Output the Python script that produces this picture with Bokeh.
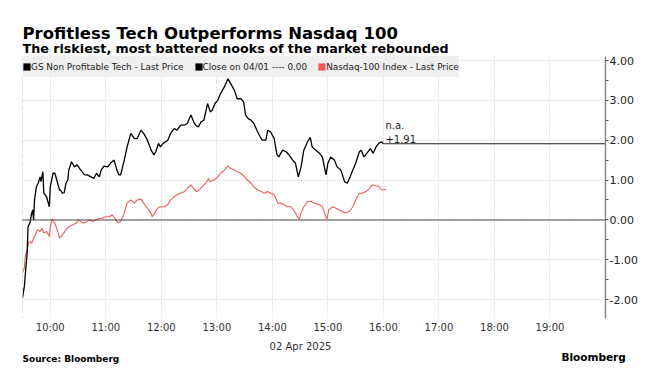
import math
import pandas as pd
from bokeh.plotting import figure
from bokeh.layouts import column, row
from bokeh.models import (Label, Span, Legend, LegendItem, Range1d, DatetimeTickFormatter,
                          FixedTicker, PrintfTickFormatter, ColumnDataSource)
from bokeh.embed import file_html
from bokeh.resources import INLINE

DAY = "2025-04-02"
title_text = "Profitless Tech Outperforms Nasdaq 100"
subtitle_text = "The riskiest, most battered nooks of the market rebounded"
date_text = "02 Apr 2025"
source_text = "Source: Bloomberg"
brand_text = "Bloomberg"

gs_label = "GS Non Profitable Tech - Last Price"
close_label = "Close on 04/01 ---- 0.00"
ndx_label = "Nasdaq-100 Index - Last Price"

gs_times = ["09:30", "09:32", "09:35", "09:36", "09:38", "09:40", "09:41", "09:42", "09:43", "09:45",
            "09:47", "09:49", "09:50", "09:52", "09:53", "09:56", "09:59", "10:00", "10:03", "10:05",
            "10:08", "10:10", "10:11", "10:13", "10:15", "10:17", "10:19", "10:20", "10:23", "10:26",
            "10:29", "10:33", "10:37", "10:40", "10:44", "10:47", "10:50", "10:53", "10:55", "10:58",
            "11:02", "11:05", "11:09", "11:12", "11:14", "11:16", "11:20", "11:23", "11:27", "11:31",
            "11:34", "11:38", "11:41", "11:45", "11:49", "11:52", "11:54", "11:57", "11:59", "12:02",
            "12:07", "12:10", "12:14", "12:17", "12:21", "12:25", "12:28", "12:32", "12:35", "12:37",
            "12:40", "12:43", "12:46", "12:50", "12:53", "12:55", "12:58", "13:01", "13:04", "13:08",
            "13:12", "13:15", "13:19", "13:22", "13:26", "13:29", "13:31", "13:34", "13:37", "13:40",
            "13:44", "13:47", "13:49", "13:53", "13:55", "13:58", "14:02", "14:05", "14:07", "14:11",
            "14:15", "14:18", "14:22", "14:25", "14:28", "14:31", "14:34", "14:38", "14:41", "14:43",
            "14:47", "14:51", "14:54", "14:58", "15:00", "15:03", "15:07", "15:10", "15:14", "15:18",
            "15:21", "15:24", "15:27", "15:30", "15:34", "15:36", "15:39", "15:42", "15:46", "15:49",
            "15:52", "15:55", "15:58", "16:00"]
gs_values = [-1.96, -1.67, -0.83, -0.17, -0.08, 0.17, 0.25, 0.00, 0.50, 0.83,
             0.92, 1.08, 0.96, 1.21, 0.67, 0.58, 0.33, 0.83, 1.17, 1.17,
             0.92, 0.75, 0.75, 0.67, 0.68, 0.92, 1.00, 1.25, 1.46, 1.33,
             1.38, 1.25, 1.13, 1.13, 1.08, 1.04, 1.17, 1.08, 1.25, 1.35,
             1.33, 1.42, 1.50, 1.25, 1.13, 1.13, 1.50, 1.83, 2.17, 2.04,
             2.04, 2.25, 2.17, 2.00, 1.75, 1.63, 1.71, 1.92, 1.83, 1.92,
             2.00, 2.17, 2.29, 2.25, 2.38, 2.38, 2.42, 2.63, 2.46, 2.38,
             2.33, 2.46, 2.50, 2.92, 2.71, 2.75, 2.92, 3.00, 3.17, 3.33,
             3.54, 3.42, 3.25, 3.04, 3.04, 2.96, 2.63, 2.54, 2.50, 2.42,
             2.21, 2.08, 2.00, 2.00, 2.25, 2.21, 2.04, 1.63, 1.58, 1.75,
             1.71, 1.63, 1.50, 1.42, 1.08, 1.33, 1.75, 1.96, 2.07, 1.83,
             1.75, 1.67, 1.58, 1.13, 1.42, 1.58, 1.50, 1.33, 1.25, 0.96,
             0.92, 1.08, 1.25, 1.42, 1.71, 1.75, 1.58, 1.67, 1.79, 1.67,
             1.83, 1.92, 1.96, 1.91]

ndx_times = ["09:30", "09:32", "09:33", "09:35", "09:37", "09:40", "09:42", "09:44", "09:46", "09:49",
             "09:51", "09:53", "09:56", "09:59", "10:00", "10:02", "10:05", "10:08", "10:10", "10:13",
             "10:17", "10:20", "10:24", "10:28", "10:31", "10:35", "10:38", "10:42", "10:46", "10:49",
             "10:53", "10:56", "11:00", "11:04", "11:07", "11:11", "11:13", "11:16", "11:20", "11:23",
             "11:27", "11:31", "11:34", "11:38", "11:41", "11:45", "11:49", "11:50", "11:53", "11:56",
             "11:59", "12:03", "12:07", "12:10", "12:14", "12:17", "12:21", "12:25", "12:28", "12:32",
             "12:35", "12:38", "12:41", "12:44", "12:48", "12:51", "12:53", "12:57", "13:01", "13:04",
             "13:08", "13:12", "13:15", "13:19", "13:22", "13:26", "13:30", "13:33", "13:37", "13:40",
             "13:44", "13:48", "13:51", "13:55", "13:58", "14:02", "14:06", "14:09", "14:13", "14:16",
             "14:20", "14:24", "14:27", "14:29", "14:31", "14:34", "14:38", "14:42", "14:45", "14:51",
             "14:54", "14:57", "14:59", "15:01", "15:05", "15:09", "15:12", "15:16", "15:19", "15:23",
             "15:27", "15:30", "15:34", "15:37", "15:41", "15:45", "15:48", "15:52", "15:55", "15:58",
             "16:03"]
ndx_values = [-1.33, -1.21, -0.92, -0.75, -0.54, -0.58, -0.46, -0.38, -0.25, -0.29,
              -0.21, -0.33, -0.29, -0.42, -0.17, 0.02, -0.08, -0.29, -0.46, -0.38,
              -0.25, -0.17, -0.13, -0.08, 0.00, -0.08, -0.07, 0.00, -0.04, 0.00,
              0.04, 0.04, 0.08, 0.08, 0.13, 0.00, -0.07, -0.04, 0.17, 0.42,
              0.50, 0.42, 0.50, 0.52, 0.42, 0.29, 0.17, 0.08, 0.17, 0.29,
              0.33, 0.33, 0.38, 0.50, 0.58, 0.63, 0.67, 0.71, 0.79, 0.88,
              0.79, 0.71, 0.75, 0.83, 0.92, 1.04, 0.96, 1.00, 1.08, 1.17,
              1.25, 1.35, 1.29, 1.25, 1.21, 1.17, 1.08, 1.00, 0.92, 0.83,
              0.75, 0.71, 0.67, 0.71, 0.67, 0.63, 0.42, 0.42, 0.38, 0.33,
              0.33, 0.21, 0.08, 0.02, 0.17, 0.33, 0.46, 0.46, 0.42, 0.38,
              0.33, 0.13, 0.02, 0.25, 0.33, 0.29, 0.25, 0.21, 0.17, 0.21,
              0.33, 0.50, 0.67, 0.67, 0.71, 0.79, 0.88, 0.85, 0.85, 0.75,
              0.77]

prev_close = 0.00
last_gs_text = ["n.a.", "+1.91"]
x_start, x_end = "09:30", "20:00"
y_start, y_end = -2.475, 4.1
y_ticks = [-2, -1, 0, 1, 2, 3, 4]
x_ticks = ["10:00", "11:00", "12:00", "13:00", "14:00", "15:00", "16:00", "17:00", "18:00", "19:00"]

W = 661
FONT = "DejaVu Sans"
FRAME_L, FRAME_R = 22, 605   # page x of the main plotting frame


def ts(t):
    return pd.Timestamp(f"{DAY} {t}")


def ms(t):
    return ts(t).value // 10**6


def text_panel(y_top, y_bottom, x_left, x_right):
    """A blank svg figure whose data units are page pixels (y grows downward)."""
    f = figure(width=W, height=y_bottom - y_top, x_range=Range1d(x_left, x_right),
               y_range=Range1d(y_bottom, y_top), output_backend="svg", toolbar_location=None,
               x_axis_location=None, y_axis_location=None,
               min_border_left=x_left, min_border_right=W - x_right,
               min_border_top=0, min_border_bottom=0)
    f.grid.visible = False
    f.outline_line_color = None
    f.background_fill_color = "white"
    f.border_fill_color = "white"
    return f


def add_text(f, txt, x, y, size, bold=False, align="left", color="#000000"):
    f.add_layout(Label(x=x, y=y, text=txt, text_font=FONT, text_font_size=size,
                       text_font_style="bold" if bold else "normal", text_align=align,
                       text_baseline="alphabetic", text_color=color))


# ---------- header ----------
TOP = 56
header = text_panel(0, TOP, FRAME_L, FRAME_R)
add_text(header, title_text, 22, 32.5, "16.5px", bold=True)
add_text(header, subtitle_text, 22, 47.5, "12.7px", bold=True)

# ---------- main chart ----------
gs_src = ColumnDataSource(dict(t=[ts(t) for t in gs_times], v=gs_values))
ndx_src = ColumnDataSource(dict(t=[ts(t) for t in ndx_times], v=ndx_values))

FRAME_H = 263
BOT = 16
p = figure(width=W, height=FRAME_H + BOT, x_axis_type="datetime", y_axis_location="right",
           output_backend="svg", toolbar_location=None,
           min_border_left=FRAME_L, min_border_right=W - FRAME_R, min_border_top=0,
           min_border_bottom=BOT,
           x_range=Range1d(ms(x_start), ms(x_end)), y_range=Range1d(y_start, y_end))
p.outline_line_color = None
p.background_fill_color = "white"
p.border_fill_color = "white"

p.xgrid.ticker = FixedTicker(ticks=[ms(t) for t in x_ticks])
p.ygrid.ticker = FixedTicker(ticks=y_ticks)
for g in (p.xgrid[0], p.ygrid[0]):
    g.grid_line_color = "#c8c8c8"
    g.grid_line_dash = "1 2"
    g.grid_line_width = 1

xa = p.xaxis[0]
xa.ticker = FixedTicker(ticks=[ms(t) for t in x_ticks])
fmt = "%H:%M"
xa.formatter = DatetimeTickFormatter(hours=fmt, hourmin=fmt, minutes=fmt, minsec=fmt,
                                     seconds=fmt, days=fmt, milliseconds=fmt)
xa.axis_line_color = None
xa.major_tick_line_color = None
xa.minor_tick_line_color = None
xa.major_tick_out = 0
xa.major_tick_in = 0
xa.major_label_standoff = 3
xa.major_label_text_font = FONT
xa.major_label_text_font_size = "10px"
xa.major_label_text_color = "#333333"

ya = p.yaxis[0]
ya.ticker = FixedTicker(ticks=y_ticks, minor_ticks=[v + 0.5 for v in y_ticks[:-1]])
ya.formatter = PrintfTickFormatter(format="%.2f")
ya.axis_line_color = "#8a8a8a"
ya.axis_line_width = 1.5
ya.major_tick_line_color = "#555555"
ya.minor_tick_line_color = "#555555"
ya.major_tick_in = 0
ya.major_tick_out = 3
ya.minor_tick_in = 0
ya.minor_tick_out = 3
ya.major_label_standoff = 1
ya.major_label_text_font = FONT
ya.major_label_text_font_size = "11px"
ya.major_label_text_color = "#222222"

p.add_layout(Span(location=ms(x_start), dimension="height", line_color="#bbbbbb",
                  line_dash="4 3", line_width=1))
p.add_layout(Span(location=prev_close, dimension="width", line_color="#4a4a4a",
                  line_dash="1 1", line_width=2))

p.line("t", "v", source=ndx_src, line_color="#f25a5a", line_width=1.1)
p.line("t", "v", source=gs_src, line_color="#000000", line_width=1.3)
p.line([ts(gs_times[-1]), ts(x_end)], [gs_values[-1], gs_values[-1]],
       line_color="#222222", line_width=1.2)

p.add_layout(Label(x=ms(gs_times[-1]), y=gs_values[-1], text=last_gs_text[0], x_offset=2, y_offset=13,
                   text_font=FONT, text_font_size="10px", text_color="#222222",
                   text_baseline="bottom"))
p.add_layout(Label(x=ms(gs_times[-1]), y=gs_values[-1], text=last_gs_text[1], x_offset=2, y_offset=1,
                   text_font=FONT, text_font_size="10px", text_color="#222222",
                   text_baseline="bottom"))

nan = [math.nan]
r1 = p.quad(left=nan, right=nan, top=nan, bottom=nan, fill_color="#000000", line_color=None)
r2 = p.quad(left=nan, right=nan, top=nan, bottom=nan, fill_color="#000000", line_color=None)
r3 = p.quad(left=nan, right=nan, top=nan, bottom=nan, fill_color="#f25a5a", line_color=None)
legend = Legend(items=[LegendItem(label=gs_label, renderers=[r1]),
                       LegendItem(label=close_label, renderers=[r2]),
                       LegendItem(label=ndx_label, renderers=[r3])],
                location="top_left", orientation="horizontal", margin=0, padding=5,
                spacing=10, label_standoff=0, glyph_width=9, glyph_height=9, label_height=21,
                label_text_font=FONT, label_text_font_size="8.9px",
                label_text_color="#222222", background_fill_color="#efefef",
                background_fill_alpha=1.0, border_line_color=None)
p.add_layout(legend, "center")

# ---------- footer (wrapped in a row so its frame spans the full width) ----------
F_TOP = TOP + FRAME_H + BOT
F_BOT = 378
footer = text_panel(F_TOP, F_BOT, 0, W)
add_text(footer, date_text, 300, 346, "10px", align="center", color="#333333")
add_text(footer, source_text, 22, 358.5, "9px", bold=True)
add_text(footer, brand_text, 561, 356, "10.5px", bold=True)

layout = column(header, p, row(footer, spacing=0), spacing=0)
open("out.html", "w").write(file_html(layout, INLINE))
